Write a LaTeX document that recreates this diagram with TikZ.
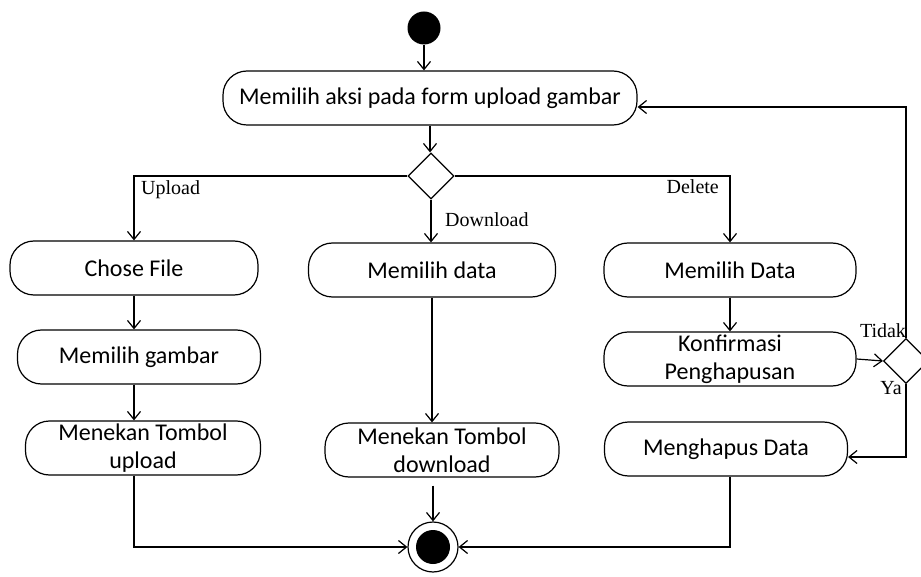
\documentclass[tikz,border=0pt]{standalone}
\usepackage{fontspec}
\setmainfont{Carlito}
\newfontfamily\lblfont{Liberation Serif}
\usepackage{tikz}
\usetikzlibrary{arrows.meta,positioning,shapes.geometric,calc}

\begin{document}
\begin{tikzpicture}[
    x=1pt, y=-1pt,
    actbox/.style={draw, rounded corners=24pt, line width=1.2pt, inner sep=0pt, minimum height=54pt, align=center, font=\fontsize{24}{28}\selectfont},
    decision/.style={draw, diamond, aspect=1, inner sep=0pt, minimum size=46pt, line width=1.2pt},
    lbl/.style={font=\lblfont\fontsize{20}{22}\selectfont, inner sep=1pt},
    arr/.style={-{Straight Barb[length=8pt,width=13pt]}, line width=1.2pt},
]
\useasboundingbox (0,0) rectangle (921,577);

% start and first action
\node[circle, fill, minimum size=33pt, inner sep=0pt] (start) at (424,28) {};
\node[actbox, minimum width=414pt] (act) at (430,98) {Memilih aksi pada form upload gambar};
\node[decision] (dec) at (431,176) {};

% three columns
\node[actbox, minimum width=248pt] (chose) at (134,268) {Chose File};
\node[actbox, minimum width=243pt] (gambar) at (139,357) {Memilih gambar};
\node[actbox, minimum width=235pt] (upl) at (143,448) {Menekan Tombol\\upload};

\node[actbox, minimum width=247pt] (mdata) at (432,270) {Memilih data};
\node[actbox, minimum width=234pt] (dwn) at (442,450) {Menekan Tombol\\download};

\node[actbox, minimum width=252pt] (mData) at (730,270) {Memilih Data};
\node[actbox, minimum width=252pt] (konf) at (730,359) {Konfirmasi\\Penghapusan};
\node[actbox, minimum width=243pt] (hapus) at (726,449) {Menghapus Data};
\node[decision, minimum size=45pt] (dec2) at (906,361) {};

% end
\node[circle, draw, line width=1.2pt, minimum size=50pt, inner sep=0pt] (end) at (433,547) {};
\node[circle, fill, minimum size=34pt, inner sep=0pt] (endin) at (end) {};

% flows
\draw[arr] (start.south) -- (start.south |- act.north);
\draw[arr] (act.south) -- (act.south |- dec.north);
\draw[arr] (dec.west) -| (chose.north);
\draw[arr] (dec.south) -- (dec.south |- mdata.north);
\draw[arr] (dec.east) -| (mData.north);
\node[lbl, anchor=west] (lupload) at (140,190) {Upload};
\node[lbl, anchor=west] (ldownload) at (444,220) {Download};
\node[lbl, anchor=east] (ldelete) at (720,187) {Delete};

\draw[arr] (chose.south) -- (chose.south |- gambar.north);
\draw[arr] (chose.south |- gambar.south) -- (chose.south |- upl.north);
\draw[arr] (mdata.south) -- (mdata.south |- dwn.north);
\draw[arr] (mData.south) -- (konf.north);
\draw[arr] (konf.east) -- (dec2.west);

% loop back
\draw[arr] (dec2.north) |- ([yshift=-9pt]act.east);
\draw[arr] (dec2.south) |- ([yshift=-8pt]hapus.east);
\node[lbl] (ltidak) at (883,331) {Tidak};
\node[lbl] (lya) at (891,388) {Ya};

% to the end
\draw[arr] (chose.south |- upl.south) |- (end.west);
\draw[arr] ($(dwn.south -| end.north)+(0,8)$) -- (end.north);
\draw[arr] (konf.south |- hapus.south) |- (end.east);
\end{tikzpicture}
\end{document}
